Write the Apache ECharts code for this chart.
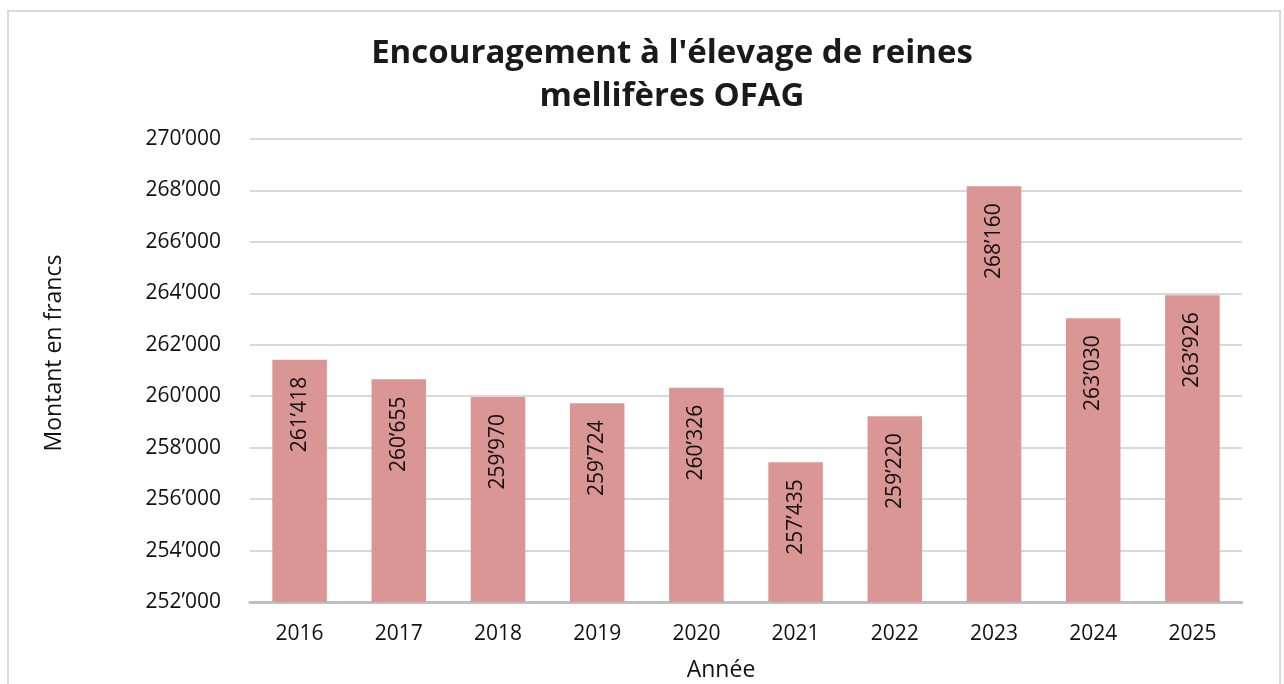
<!DOCTYPE html>
<html>
<head>
<meta charset="utf-8">
<script src="https://cdn.jsdelivr.net/npm/echarts@6/dist/echarts.min.js"></script>
<style>
  html, body { margin: 0; padding: 0; background: #fff; }
  #chart { width: 1284px; height: 684px; }
</style>
</head>
<body>
<div id="chart"></div>
<script>
const years = ["2016", "2017", "2018", "2019", "2020", "2021", "2022", "2023", "2024", "2025"]
const amounts = [261418, 260655, 259970, 259724, 260326, 257435, 259220, 268160, 263030, 263926]
const yMin = 252000
const yMax = 270000
const yStep = 2000

const fontName = "'Open Sans', 'Noto Sans', sans-serif"

// swiss style thousands separator
const fmt = (v) => String(v).replace(/\B(?=(\d{3})+(?!\d))/g, "\u2019")

const chart = echarts.init(document.getElementById("chart"))

const option = {
  animation: false,
  backgroundColor: "#fff",
  textStyle: { fontFamily: fontName },
  title: {
    text: "Encouragement à l'élevage de reines\nmellifères OFAG",
    left: 667,
    top: 27,
    textAlign: "center",
    textStyle: {
      fontSize: 33,
      fontWeight: "bold",
      color: "#1a1a1a",
      lineHeight: 43,
      fontFamily: fontName,
    },
  },
  grid: { left: 250, right: 42, top: 139, bottom: 82 },
  xAxis: {
    type: "category",
    data: years,
    axisLine: { lineStyle: { color: "#BFBFBF", width: 3 } },
    axisTick: { show: false },
    axisLabel: { color: "#111", fontSize: 21, margin: 22 },
  },
  yAxis: {
    type: "value",
    min: yMin,
    max: yMax,
    interval: yStep,
    axisLine: { show: false },
    axisTick: { show: false },
    splitLine: { lineStyle: { color: "#D9D9D9", width: 2 } },
    axisLabel: {
      color: "#111",
      fontSize: 21,
      margin: 29,
      formatter: (v) => fmt(v),
    },
  },
  series: [
    {
      type: "bar",
      data: amounts,
      barWidth: "55%",
      itemStyle: { color: "#D99694" },
      label: {
        show: true,
        position: "insideTop",
        rotate: 90,
        align: "right",
        verticalAlign: "middle",
        distance: 17,
        fontSize: 21,
        color: "#111",
        formatter: (p) => fmt(p.value),
      },
    },
  ],
  graphic: [
    {
      type: "rect",
      shape: { x: 8, y: 11, width: 1272, height: 690 },
      style: { fill: "none", stroke: "#D9D9D9", lineWidth: 2 },
      silent: true,
    },
    {
      type: "text",
      x: 54,
      y: 353,
      rotation: Math.PI / 2,
      style: {
        text: "Montant en francs",
        fontSize: 23,
        fontFamily: fontName,
        fill: "#111",
        align: "center",
        verticalAlign: "middle",
      },
    },
    {
      type: "text",
      x: 721,
      y: 670,
      style: {
        text: "Année",
        fontSize: 23,
        fontFamily: fontName,
        fill: "#111",
        align: "center",
        verticalAlign: "middle",
      },
    },
  ],
}

chart.setOption(option)
</script>
</body>
</html>
